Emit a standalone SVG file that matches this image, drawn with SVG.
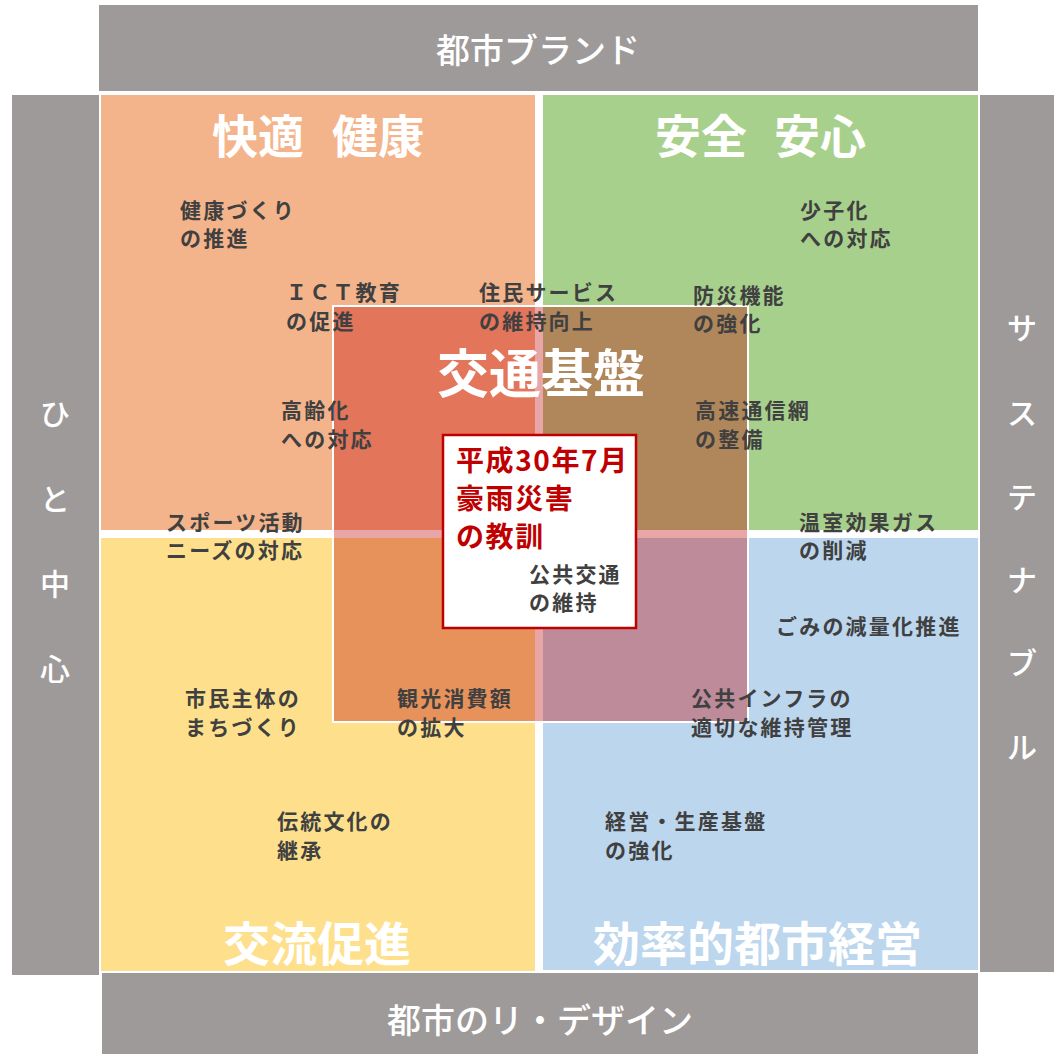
<svg xmlns="http://www.w3.org/2000/svg" width="1054" height="1055" viewBox="0 0 1054 1055">
<style>
.bar{fill:#9e9a99}
.barT{font-family:"Noto Sans CJK JP","Noto Sans",sans-serif;font-weight:500;font-size:34px;fill:#fff}
.vT{font-family:"Noto Sans CJK JP","Noto Sans",sans-serif;font-weight:500;font-size:30px;fill:#fff;text-anchor:middle}
.ttl{font-family:"Noto Sans CJK JP","Noto Sans",sans-serif;font-weight:bold;fill:#fff}
.lbl{font-family:"Noto Sans CJK JP","Noto Sans",sans-serif;font-weight:bold;font-size:21px;letter-spacing:2.2px;fill:#404040}
.red{font-family:"Noto Sans CJK JP","Noto Sans",sans-serif;font-weight:bold;font-size:28px;letter-spacing:1.6px;fill:#c00000}
</style>
<rect width="1054" height="1055" fill="#fff"/>
<g id="bar-top"><rect class="bar" x="99" y="5" width="879" height="86"/><text class="barT" x="538" y="63" text-anchor="middle">都市ブランド</text></g>
<g id="bar-bottom"><rect class="bar" x="102" y="973" width="876" height="81"/><text class="barT" x="540" y="1033" text-anchor="middle">都市のリ・デザイン</text></g>
<g id="bar-left"><rect class="bar" x="12" y="95" width="87" height="880"/><text class="vT"><tspan x="55" y="425">ひ</tspan><tspan x="55" y="510">と</tspan><tspan x="55" y="595">中</tspan><tspan x="55" y="680">心</tspan></text></g>
<g id="bar-right"><rect class="bar" x="980" y="95" width="74" height="877"/><text class="vT"><tspan x="1022" y="339">サ</tspan><tspan x="1022" y="424">ス</tspan><tspan x="1022" y="508">テ</tspan><tspan x="1022" y="591">ナ</tspan><tspan x="1022" y="674">ブ</tspan><tspan x="1022" y="758">ル</tspan></text></g>
<g id="q-comfort"><rect x="101" y="95" width="434" height="435" fill="#f4b48b"/><text class="ttl" font-size="46" x="212" y="153">快適 <tspan x="332">健康</tspan></text></g>
<g id="q-safety"><rect x="543" y="95" width="435" height="435" fill="#a8d08d"/><text class="ttl" font-size="46" x="655" y="153">安全 <tspan x="774">安心</tspan></text></g>
<g id="q-exchange"><rect x="101" y="538" width="434" height="433" fill="#fee08c"/><text class="ttl" font-size="47" x="223" y="961">交流促進</text></g>
<g id="q-management"><rect x="543" y="538" width="435" height="432" fill="#bcd6ed"/><text class="ttl" font-size="47" x="593" y="961">効率的都市経営</text></g>
<g id="transport"><rect x="333" y="306" width="415" height="416" fill="#c00000" fill-opacity="0.35" stroke="#fff" stroke-width="2"/><text class="ttl" font-size="52" x="437" y="393">交通基盤</text></g>
<g id="labels">
<text class="lbl" x="180" y="218">健康づくり<tspan x="180" y="246">の推進</tspan></text>
<text class="lbl" x="286" y="300">ＩＣＴ教育<tspan x="286" y="329">の促進</tspan></text>
<text class="lbl" x="479" y="300">住民サービス<tspan x="479" y="329">の維持向上</tspan></text>
<text class="lbl" x="281" y="418">高齢化<tspan x="281" y="447">への対応</tspan></text>
<text class="lbl" x="166" y="530">スポーツ活動<tspan x="166" y="558">ニーズの対応</tspan></text>
<text class="lbl" x="800" y="218">少子化<tspan x="800" y="246">への対応</tspan></text>
<text class="lbl" x="693" y="303">防災機能<tspan x="693" y="331">の強化</tspan></text>
<text class="lbl" x="695" y="418">高速通信網<tspan x="695" y="447">の整備</tspan></text>
<text class="lbl" x="799" y="530">温室効果ガス<tspan x="799" y="558">の削減</tspan></text>
<text class="lbl" x="776" y="634">ごみの減量化推進</text>
<text class="lbl" x="691" y="706">公共インフラの<tspan x="691" y="735">適切な維持管理</tspan></text>
<text class="lbl" x="605" y="829">経営・生産基盤<tspan x="605" y="858">の強化</tspan></text>
<text class="lbl" x="185" y="706">市民主体の<tspan x="185" y="735">まちづくり</tspan></text>
<text class="lbl" x="397" y="706">観光消費額<tspan x="397" y="735">の拡大</tspan></text>
<text class="lbl" x="277" y="829">伝統文化の<tspan x="277" y="858">継承</tspan></text>
</g>
<g id="lesson"><rect x="443" y="435" width="193" height="193" fill="#fff" stroke="#c00000" stroke-width="2.5"/>
<text class="red" x="456" y="471">平成30年7月<tspan x="456" y="509">豪雨災害</tspan><tspan x="456" y="547">の教訓</tspan></text>
<text class="lbl" x="529" y="582">公共交通<tspan x="529" y="610">の維持</tspan></text></g>
<g id="connectors"/>
</svg>
